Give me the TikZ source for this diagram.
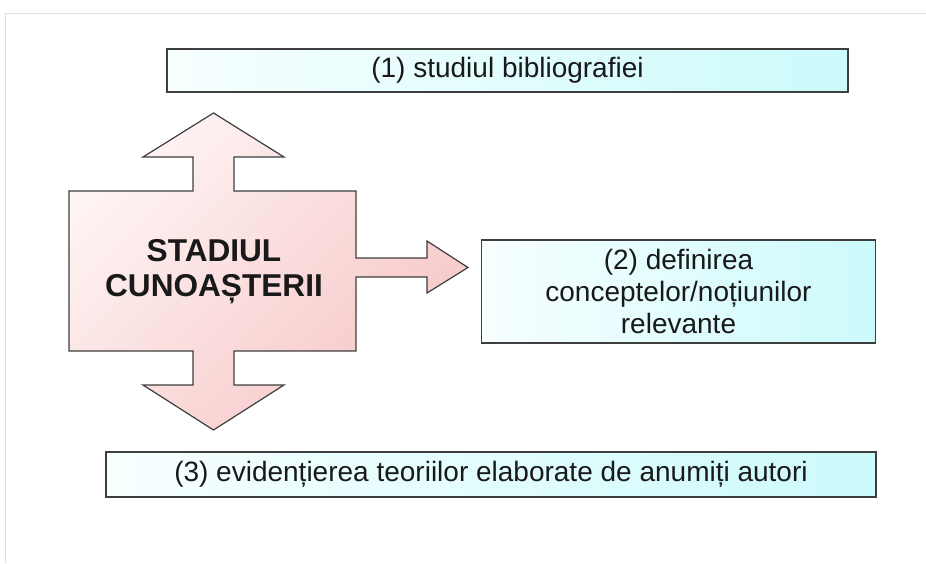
\documentclass[tikz,border=0pt]{standalone}
\usepackage{fontspec}
\setmainfont{Liberation Sans}

\definecolor{chenar}{RGB}{62,62,62}
\definecolor{cyandeschis}{RGB}{248,255,255}
\definecolor{cyaninchis}{RGB}{204,250,251}
\definecolor{rozdeschis}{RGB}{254,243,243}
\definecolor{rozinchis}{RGB}{247,198,198}

\tikzset{
	caseta/.style={draw=chenar, line width=1.4pt, left color=cyandeschis, right color=cyaninchis,
		inner sep=0pt, align=center, text=black!90, font=\fontsize{28}{32}\selectfont},
	sageata/.style={draw=chenar, line width=1.2pt, top color=rozdeschis, bottom color=rozinchis, shading angle=45}
}

\begin{document}
\begin{tikzpicture}[x=1pt,y=-1pt]
	\useasboundingbox (0,0) rectangle (926,563);
	\draw[gray!25] (5,563) -- (5,13) -- (926,13);
	
	% casetele cu etape
	\node[caseta, minimum width=681pt, minimum height=43pt] (studiu) at (507.5,70.5) {(1) studiul bibliografiei};
	\node[caseta, minimum width=394pt, minimum height=103pt] (definire) at (678.5,291.5) {(2) definirea\\conceptelor/noțiunilor\\relevante};
	\node[caseta, minimum width=770pt, minimum height=45pt] (teorii) at (491,474.5) {(3) evidențierea teoriilor elaborate de anumiți autori};
	
	% blocul central cu sageti
	\shadedraw[sageata] (69,191) -- (193,191) -- (193,157) -- (143,157) -- (213.5,113) -- (284,157) -- (234,157) -- (234,191)
		-- (356,191) -- (356,258) -- (427,258) -- (427,241) -- (468,267.5) -- (427,293) -- (427,277) -- (356,277)
		-- (356,351) -- (234,351) -- (234,385) -- (284,385) -- (213.5,430) -- (143,385) -- (193,385) -- (193,351)
		-- (69,351) -- cycle;
	\node[align=center, text=black!90, font=\bfseries\fontsize{31.6}{35}\selectfont] (stadiu) at (214,272) {STADIUL\\CUNOAȘTERII};
\end{tikzpicture}
\end{document}
